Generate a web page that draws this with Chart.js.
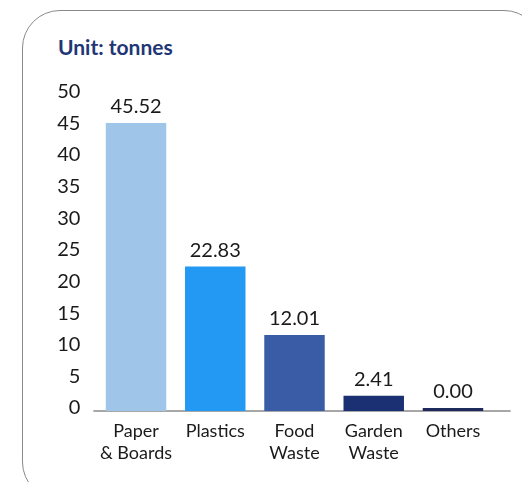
<!DOCTYPE html>
<html>
<head>
<meta charset="utf-8">
<script src="https://cdn.jsdelivr.net/npm/chart.js@4.4.1/dist/chart.umd.min.js"></script>
<style>
  html, body { margin: 0; padding: 0; background: #fff; overflow: hidden; }
  #wrap { position: relative; width: 522px; height: 482px; }
  #card {
    position: absolute; left: 22px; top: 10px; width: 520px; height: 490px;
    border: 1px solid #8a8a8a; border-radius: 38px; box-sizing: border-box;
  }
  #unit {
    position: absolute; left: 58px; top: 34px;
    font: bold 21px Lato, sans-serif; color: #1f3775;
  }
  canvas { position: absolute; left: 0; top: 0; }
</style>
</head>
<body>
<div id="wrap">
  <div id="card"></div>
  <div id="unit">Unit: tonnes</div>
  <canvas id="chart" width="522" height="482"></canvas>
</div>
<script>
// waste composition, tonnes
const categories = [['Paper', '& Boards'], 'Plastics', ['Food', 'Waste'], ['Garden', 'Waste'], 'Others'];
const tonnes = [45.52, 22.83, 12.01, 2.41, 0.00];
const yTicks = [0, 5, 10, 15, 20, 25, 30, 35, 40, 45, 50];

const barColors = ['#9fc5e8', '#2499f3', '#3a5ba6', '#1a3072', '#1e2a5c'];

// value labels above bars + extended x axis line
const extrasPlugin = {
    id: 'extras',
    beforeDatasetsDraw(chart) {
        const { ctx, chartArea } = chart;
        const y = chart.scales.y.getPixelForValue(0);
        ctx.save();
        ctx.strokeStyle = '#8a8a8a';
        ctx.lineWidth = 1.5;
        ctx.beginPath();
        ctx.moveTo(chartArea.left - 3, y);
        ctx.lineTo(chartArea.right + 18, y);
        ctx.stroke();
        ctx.restore();
    },
    afterDatasetsDraw(chart) {
        const { ctx } = chart;
        const meta = chart.getDatasetMeta(0);
        ctx.save();
        ctx.font = '20px Lato, sans-serif';
        ctx.fillStyle = '#1a1a1a';
        ctx.textAlign = 'center';
        ctx.textBaseline = 'bottom';
        meta.data.forEach((bar, i) => {
            const top = Math.min(bar.y, bar.base);
            ctx.fillText(tonnes[i].toFixed(2), bar.x, top - 6);
        });
        ctx.restore();
    }
};

new Chart(document.getElementById('chart'), {
    type: 'bar',
    data: {
        labels: categories,
        datasets: [{
            data: tonnes,
            backgroundColor: barColors,
            barPercentage: 0.763,
            categoryPercentage: 1,
            minBarLength: 3
        }]
    },
    options: {
        responsive: false,
        animation: false,
        layout: { padding: { left: 0, right: 29.4, top: 94.6, bottom: 0 } },
        plugins: { legend: { display: false }, tooltip: { enabled: false } },
        scales: {
            y: {
                min: 0, max: 50,
                afterBuildTicks: (scale) => { scale.ticks = yTicks.map(v => ({ value: v })); },
                afterFit: (scale) => { scale.width = 96.4; },
                grid: { display: false, drawTicks: false },
                border: { display: false },
                ticks: {
                    color: '#1a1a1a', padding: 16, labelOffset: -3,
                    font: { family: 'Lato, sans-serif', size: 20 }
                }
            },
            x: {
                afterFit: (scale) => { scale.height = 71; },
                grid: { display: false, drawTicks: false },
                border: { display: false },
                ticks: {
                    color: '#1a1a1a', padding: 9, maxRotation: 0, autoSkip: false,
                    font: { family: 'Lato, sans-serif', size: 18, lineHeight: 1.22 }
                }
            }
        }
    },
    plugins: [extrasPlugin]
});
</script>
</body>
</html>
